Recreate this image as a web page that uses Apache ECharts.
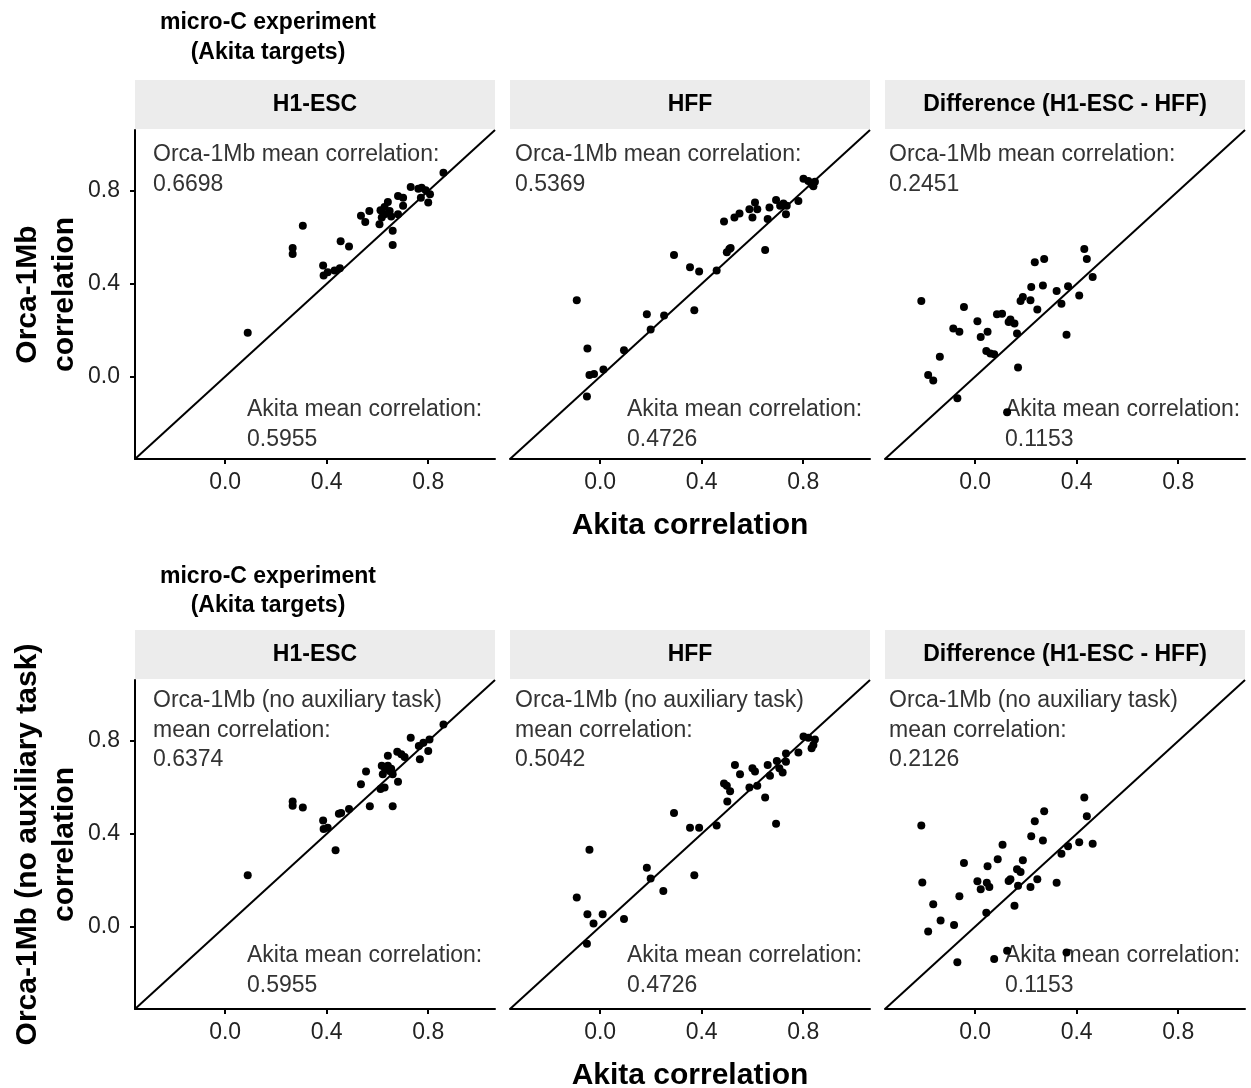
<!DOCTYPE html>
<html>
<head>
<meta charset="utf-8">
<title>Orca vs Akita correlation</title>
<script src="https://cdn.jsdelivr.net/npm/echarts@6/dist/echarts.min.js"></script>
<style>
html, body { margin: 0; padding: 0; background: #fff; }
#chart { width: 1251px; height: 1088px; }
</style>
</head>
<body>
<div id="chart"></div>
<script>
// panel names and axis ticks
var panelNames = ['H1-ESC', 'HFF', 'Difference (H1-ESC - HFF)'];
var tickValues = [0, 0.4, 0.8];
var axisMin = -0.355, axisMax = 1.063;

// row 1: Orca-1Mb vs Akita
var h1Akita = [0.089,0.266,0.266,0.306,0.386,0.388,0.404,0.431,0.452,0.455,0.488,0.535,0.552,0.568,0.612,0.617,0.608,0.628,0.641,0.654,0.66,0.66,0.681,0.701,0.701,0.681,0.731,0.761,0.774,0.79,0.771,0.8,0.807,0.86,0.648,0.628];
var h1Orca = [0.189,0.554,0.529,0.65,0.479,0.436,0.45,0.457,0.467,0.583,0.561,0.693,0.667,0.714,0.717,0.686,0.657,0.731,0.753,0.69,0.629,0.567,0.779,0.771,0.736,0.7,0.817,0.81,0.814,0.803,0.771,0.75,0.786,0.879,0.714,0.7];

var hffAkita = [-0.092,-0.05,-0.042,-0.024,-0.052,0.013,0.094,0.184,0.199,0.252,0.291,0.354,0.371,0.39,0.459,0.488,0.499,0.509,0.514,0.529,0.549,0.588,0.6,0.61,0.619,0.65,0.66,0.667,0.693,0.709,0.722,0.732,0.735,0.781,0.801,0.82,0.833,0.846,0.84];
var hffOrca = [0.329,0.121,0.007,0.011,-0.086,0.031,0.114,0.269,0.203,0.264,0.524,0.471,0.286,0.453,0.457,0.669,0.536,0.55,0.554,0.686,0.703,0.721,0.686,0.75,0.721,0.546,0.679,0.729,0.761,0.736,0.746,0.7,0.736,0.757,0.853,0.843,0.829,0.84,0.821];

var diffAkita = [-0.212,-0.185,-0.165,-0.139,-0.086,-0.062,-0.07,-0.044,0.009,0.022,0.049,0.044,0.06,0.075,0.086,0.106,0.132,0.139,0.155,0.165,0.169,0.126,0.179,0.188,0.218,0.221,0.235,0.245,0.267,0.272,0.321,0.34,0.36,0.366,0.41,0.43,0.44,0.463];
var diffOrca = [0.326,0.007,-0.017,0.086,0.207,0.193,-0.093,0.3,0.239,0.171,0.193,0.111,0.1,0.096,0.269,0.271,0.236,0.246,0.229,0.186,0.039,-0.154,0.326,0.343,0.329,0.386,0.493,0.289,0.393,0.507,0.369,0.314,0.181,0.39,0.35,0.55,0.507,0.429];

// row 2: Orca-1Mb (no auxiliary task) vs Akita
var h1AkitaNa = [0.089,0.266,0.266,0.306,0.386,0.388,0.404,0.435,0.448,0.457,0.488,0.535,0.555,0.57,0.612,0.617,0.621,0.628,0.63,0.641,0.648,0.654,0.66,0.66,0.681,0.678,0.694,0.707,0.731,0.763,0.767,0.781,0.8,0.805,0.86,0.641];
var h1OrcaNa = [0.221,0.539,0.521,0.514,0.457,0.421,0.426,0.329,0.486,0.49,0.507,0.614,0.669,0.519,0.593,0.693,0.657,0.6,0.679,0.736,0.671,0.681,0.657,0.519,0.624,0.754,0.743,0.731,0.814,0.779,0.721,0.793,0.757,0.807,0.871,0.693];

var hffAkitaNa = [-0.092,-0.042,-0.05,-0.026,-0.052,0.01,0.094,0.184,0.199,0.249,0.291,0.354,0.371,0.39,0.459,0.488,0.499,0.512,0.501,0.531,0.551,0.588,0.6,0.61,0.619,0.65,0.66,0.669,0.693,0.696,0.706,0.719,0.732,0.732,0.781,0.801,0.82,0.846,0.833,0.84];
var hffOrcaNa = [0.126,0.331,0.053,0.014,-0.074,0.053,0.033,0.254,0.207,0.154,0.49,0.426,0.221,0.426,0.436,0.617,0.607,0.583,0.539,0.697,0.657,0.6,0.683,0.669,0.607,0.557,0.697,0.65,0.443,0.714,0.683,0.664,0.746,0.711,0.75,0.819,0.814,0.807,0.769,0.783];

var diffAkitaNa = [-0.212,-0.208,-0.185,-0.165,-0.136,-0.083,-0.062,-0.07,-0.044,0.009,0.022,0.046,0.056,0.044,0.049,0.075,0.089,0.108,0.126,0.132,0.139,0.155,0.165,0.169,0.179,0.188,0.218,0.221,0.235,0.245,0.267,0.272,0.321,0.34,0.36,0.366,0.41,0.43,0.44,0.463];
var diffOrcaNa = [0.436,0.19,-0.021,0.096,0.026,0.007,0.131,-0.153,0.274,0.196,0.161,0.189,0.171,0.06,0.26,-0.14,0.29,0.353,-0.104,0.197,0.204,0.09,0.247,0.176,0.236,0.286,0.171,0.39,0.454,0.204,0.371,0.497,0.189,0.314,-0.111,0.346,0.364,0.557,0.476,0.357];

var rowXs = [[h1Akita, hffAkita, diffAkita], [h1AkitaNa, hffAkitaNa, diffAkitaNa]];
var rowYs = [[h1Orca, hffOrca, diffOrca], [h1OrcaNa, hffOrcaNa, diffOrcaNa]];

var topNotes = [
	[['Orca-1Mb mean correlation:', '0.6698'], ['Orca-1Mb mean correlation:', '0.5369'], ['Orca-1Mb mean correlation:', '0.2451']],
	[['Orca-1Mb (no auxiliary task)', 'mean correlation:', '0.6374'], ['Orca-1Mb (no auxiliary task)', 'mean correlation:', '0.5042'], ['Orca-1Mb (no auxiliary task)', 'mean correlation:', '0.2126']]
];
var akitaNotes = ['0.5955', '0.4726', '0.1153'];
var yTitles = [['Orca-1Mb', 'correlation'], ['Orca-1Mb (no auxiliary task)', 'correlation']];

// layout (pixels)
var panelLeft = [135, 510, 885];
var panelW = 360, panelH = 329;
var rowTop = [130, 680];
var stripH = 49;
var topNoteX = [18, 5, 4];
var topNoteY = [25, 21];
var akitaNoteX = [112, 117, 120];
var akitaNoteY = [280, 276];
var titleY = [[23, 53], [577, 606]];

var FONT = '"Liberation Sans", Arial, Helvetica, sans-serif';

function pairs(xs, ys) {
	var out = [];
	for (var i = 0; i < xs.length; i++) {
		out.push([xs[i], ys[i]]);
	}
	return out;
}

function txt(x, y, s, size, weight, color, align, rot) {
	var el = {
		type: 'text',
		x: x,
		y: y,
		style: {
			text: s,
			font: (weight || 'normal') + ' ' + size + 'px ' + FONT,
			fill: color || '#000',
			align: align || 'left',
			verticalAlign: 'middle'
		}
	};
	if (rot) el.rotation = rot;
	return el;
}

function buildOption() {
	var grid = [], xAxis = [], yAxis = [], series = [], graphic = [];

	for (var r = 0; r < 2; r++) {
		var py = rowTop[r];
		// row title
		graphic.push(txt(268, titleY[r][0], 'micro-C experiment', 23, 'bold', '#000', 'center'));
		graphic.push(txt(268, titleY[r][1], '(Akita targets)', 23, 'bold', '#000', 'center'));
		// x title
		graphic.push(txt(690, py + panelH + 67, 'Akita correlation', 30, 'bold', '#000', 'center'));
		// y title
		var ymid = py + panelH / 2;
		graphic.push(txt(28, ymid, yTitles[r][0], 30, 'bold', '#000', 'center', Math.PI / 2));
		graphic.push(txt(65, ymid, yTitles[r][1], 30, 'bold', '#000', 'center', Math.PI / 2));

		for (var c = 0; c < 3; c++) {
			var idx = r * 3 + c;
			var px = panelLeft[c];
			grid.push({ left: px, top: py, width: panelW, height: panelH });
			xAxis.push({
				type: 'value', gridIndex: idx, min: axisMin, max: axisMax,
				splitLine: { show: false },
				axisLine: { onZero: false, lineStyle: { color: '#000', width: 2 } },
				axisTick: { show: true, length: 5, lineStyle: { color: '#000', width: 2 }, customValues: tickValues },
				axisLabel: { fontSize: 23, color: '#222', fontFamily: FONT, margin: 12, customValues: tickValues,
					formatter: function (v) { return v.toFixed(1); } }
			});
			yAxis.push({
				type: 'value', gridIndex: idx, min: axisMin, max: axisMax,
				splitLine: { show: false },
				axisLine: { show: c === 0, onZero: false, lineStyle: { color: '#000', width: 2 } },
				axisTick: { show: c === 0, length: 5, lineStyle: { color: '#000', width: 2 }, customValues: tickValues },
				axisLabel: { show: c === 0, fontSize: 23, color: '#222', fontFamily: FONT, margin: 15, customValues: tickValues,
					formatter: function (v) { return v.toFixed(1); } }
			});
			// y = x reference line
			series.push({
				type: 'line', xAxisIndex: idx, yAxisIndex: idx,
				data: [[axisMin, axisMin], [axisMax, axisMax]],
				symbol: 'none', silent: true,
				lineStyle: { color: '#000', width: 2 }
			});
			series.push({
				type: 'scatter', xAxisIndex: idx, yAxisIndex: idx,
				data: pairs(rowXs[r][c], rowYs[r][c]),
				symbolSize: 8,
				itemStyle: { color: '#000', opacity: 1 }
			});

			// strip
			graphic.push({
				type: 'rect',
				shape: { x: px, y: py - stripH - 1, width: panelW, height: stripH },
				style: { fill: '#ececec' }
			});
			graphic.push(txt(px + panelW / 2, py - stripH / 2 - 1, panelNames[c], 23, 'bold', '#000', 'center'));

			// annotations
			var notes = topNotes[r][c];
			for (var k = 0; k < notes.length; k++) {
				graphic.push(txt(px + topNoteX[c], py + topNoteY[r] + 29.5 * k, notes[k], 23, 'normal', '#333', 'left'));
			}
			graphic.push(txt(px + akitaNoteX[c], py + akitaNoteY[r], 'Akita mean correlation:', 23, 'normal', '#333', 'left'));
			graphic.push(txt(px + akitaNoteX[c], py + akitaNoteY[r] + 30, akitaNotes[c], 23, 'normal', '#333', 'left'));
		}
	}

	return {
		backgroundColor: '#fff',
		animation: false,
		grid: grid,
		xAxis: xAxis,
		yAxis: yAxis,
		series: series,
		graphic: { elements: graphic }
	};
}

var chart = echarts.init(document.getElementById('chart'), null, { renderer: 'canvas' });
chart.setOption(buildOption());
</script>
</body>
</html>
